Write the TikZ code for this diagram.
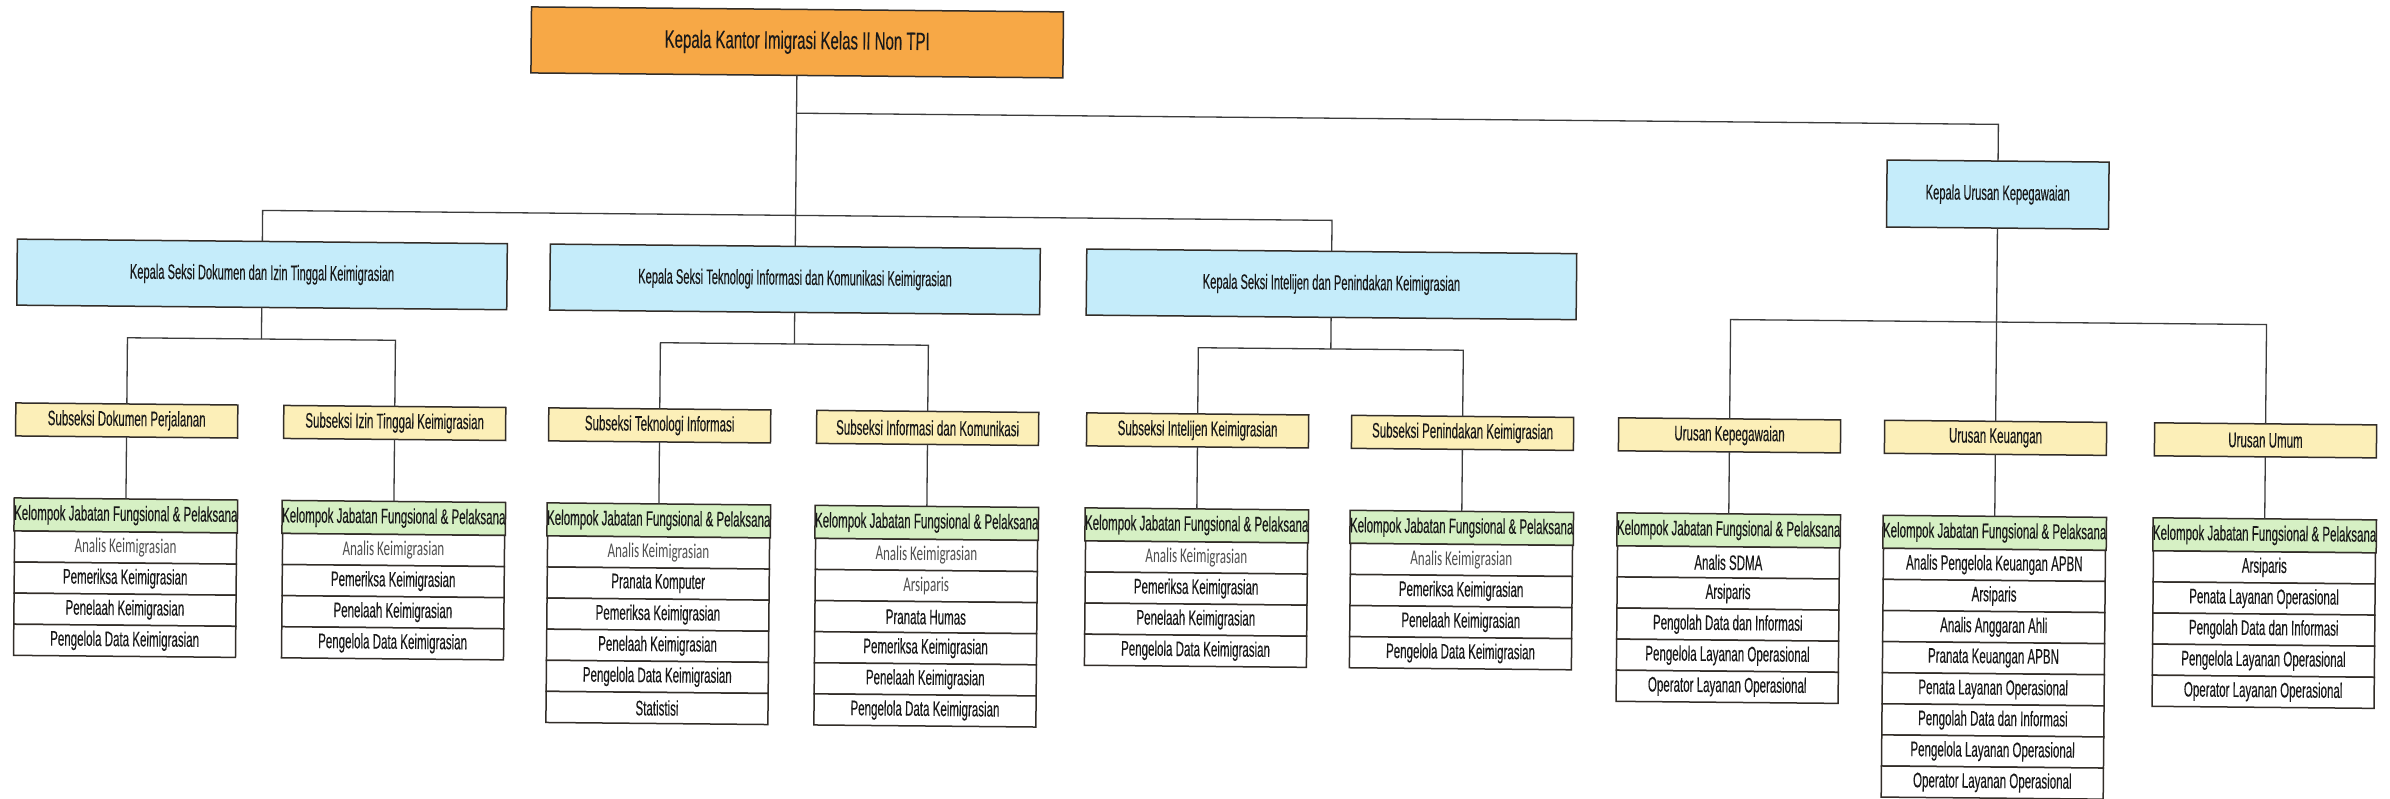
\documentclass[tikz,border=0pt]{standalone}
\usepackage{fontspec}
\setmainfont{Liberation Sans}[FakeStretch=0.55,FakeBold=0.25]
\newfontfamily\seksifont{Liberation Sans}[FakeStretch=0.53,FakeBold=0.25]
\newfontfamily\topfont{Liberation Sans}[FakeStretch=0.6,FakeBold=0.25]
\newfontfamily\calfont{Carlito}[FakeStretch=0.62]
\definecolor{orangec}{RGB}{247,168,70}
\definecolor{bluec}{RGB}{197,236,250}
\definecolor{yellowc}{RGB}{252,239,184}
\definecolor{greenc}{RGB}{214,240,196}
\definecolor{linec}{RGB}{50,45,40}
\definecolor{connc}{RGB}{60,60,60}
\definecolor{textc}{RGB}{25,25,25}
\definecolor{akc}{RGB}{80,80,80}
\newcommand\ak{{\calfont\color{akc}Analis Keimigrasian}}
\newcommand\arc{{\calfont\color{akc}Arsiparis}}
\newcommand\orgunit[5]{%
  \node[#4] (#1s) at (#2,419.3) {#3};
  \node[hdr] (#1h) at (#2,514.3) {Kelompok Jabatan Fungsional \& Pelaksana};
  \foreach \t [count=\i] in {#5} {\node[rowbox] (#1r\i) at (#2,{530.8+31.1*(\i-0.5)}) {\t};}
  \draw[conn] (#1s.south) -- (#1h.north);
}
\begin{document}
\begin{tikzpicture}[x=1pt,y=-1pt,
  every node/.style={inner sep=0pt, outer sep=0pt, align=center},
  boxbase/.style={draw=linec, line width=1.5pt, font=\fontsize{21}{25}\selectfont, text=textc},
  kepala/.style={boxbase, fill=orangec, minimum width=532, minimum height=66, font=\topfont\fontsize{25}{29}\selectfont},
  seksi/.style={boxbase, fill=bluec, minimum width=490, minimum height=66, font=\seksifont\fontsize{21}{25}\selectfont},
  urusanhead/.style={boxbase, fill=bluec, minimum width=222, minimum height=67, font=\seksifont\fontsize{21}{25}\selectfont},
  subbox/.style={boxbase, fill=yellowc, minimum width=222, minimum height=33},
  hdr/.style={boxbase, fill=greenc, minimum width=222, minimum height=33},
  rowbox/.style={boxbase, fill=white, minimum width=222, minimum height=31.1},
  conn/.style={draw=connc, line width=1.3pt},
]
\useasboundingbox[fill=white] (0,0) rectangle (2390,799);
\begin{scope}[rotate around={-0.533:(0,0)}, transform shape]
\node[kepala] (kk) at (797.6,35) {Kepala Kantor Imigrasi Kelas II Non TPI};
\node[seksi] (s1) at (264.6,272) {Kepala Seksi Dokumen dan Izin Tinggal Keimigrasian};
\node[seksi] (s2) at (797.6,272) {Kepala Seksi Teknologi Informasi dan Komunikasi Keimigrasian};
\node[seksi] (s3) at (1334.1,272) {Kepala Seksi Intelijen dan Penindakan Keimigrasian};
\node[urusanhead] (ku) at (1999.6,176) {Kepala Urusan Kepegawaian};

\coordinate (j1) at (797.6,105.8);
\coordinate (j1r) at (1999.6,105.8);
\coordinate (j2l) at (264.6,208);
\coordinate (j2r) at (1334.1,208);
\draw[conn] (kk.south) -- (s2.north);
\draw[conn] (j1) -- (j1r) -- (ku.north);
\draw[conn] (s1.north) -- (j2l) -- (j2r) -- (s3.north);

\orgunit{a}{130.6}{Subseksi Dokumen Perjalanan}{subbox}{\ak,Pemeriksa Keimigrasian,Penelaah Keimigrasian,Pengelola Data Keimigrasian}
\orgunit{b}{398.6}{Subseksi Izin Tinggal Keimigrasian}{subbox}{\ak,Pemeriksa Keimigrasian,Penelaah Keimigrasian,Pengelola Data Keimigrasian}
\orgunit{c}{663.6}{Subseksi Teknologi Informasi}{subbox}{\ak,Pranata Komputer,Pemeriksa Keimigrasian,Penelaah Keimigrasian,Pengelola Data Keimigrasian,Statistisi}
\orgunit{d}{931.6}{Subseksi Informasi dan Komunikasi}{subbox}{\ak,\arc,Pranata Humas,Pemeriksa Keimigrasian,Penelaah Keimigrasian,Pengelola Data Keimigrasian}
\orgunit{e}{1201.6}{Subseksi Intelijen Keimigrasian}{subbox}{\ak,Pemeriksa Keimigrasian,Penelaah Keimigrasian,Pengelola Data Keimigrasian}
\orgunit{f}{1466.6}{Subseksi Penindakan Keimigrasian}{subbox}{\ak,Pemeriksa Keimigrasian,Penelaah Keimigrasian,Pengelola Data Keimigrasian}
\orgunit{g}{1733.6}{Urusan Kepegawaian}{subbox}{Analis SDMA,Arsiparis,Pengolah Data dan Informasi,Pengelola Layanan Operasional,Operator Layanan Operasional}
\orgunit{h}{1999.6}{Urusan Keuangan}{subbox}{Analis Pengelola Keuangan APBN,Arsiparis,Analis Anggaran Ahli,Pranata Keuangan APBN,Penata Layanan Operasional,Pengolah Data dan Informasi,Pengelola Layanan Operasional,Operator Layanan Operasional}
\orgunit{i}{2269.6}{Urusan Umum}{subbox}{Arsiparis,Penata Layanan Operasional,Pengolah Data dan Informasi,Pengelola Layanan Operasional,Operator Layanan Operasional}

\coordinate (k1) at (264.6,336.6);
\coordinate (k1a) at (130.6,336.6);
\coordinate (k1b) at (398.6,336.6);
\coordinate (k2) at (797.6,336.6);
\coordinate (k2a) at (663.6,336.6);
\coordinate (k2b) at (931.6,336.6);
\coordinate (k3) at (1334.1,336.6);
\coordinate (k3a) at (1201.6,336.6);
\coordinate (k3b) at (1466.6,336.6);
\coordinate (k4a) at (1733.6,303.5);
\coordinate (k4b) at (2269.6,303.5);
\draw[conn] (s1.south) -- (k1);
\draw[conn] (as.north) -- (k1a) -- (k1b) -- (bs.north);
\draw[conn] (s2.south) -- (k2);
\draw[conn] (cs.north) -- (k2a) -- (k2b) -- (ds.north);
\draw[conn] (s3.south) -- (k3);
\draw[conn] (es.north) -- (k3a) -- (k3b) -- (fs.north);
\draw[conn] (ku.south) -- (hs.north);
\draw[conn] (gs.north) -- (k4a) -- (k4b) -- (is.north);
\end{scope}
\end{tikzpicture}
\end{document}
